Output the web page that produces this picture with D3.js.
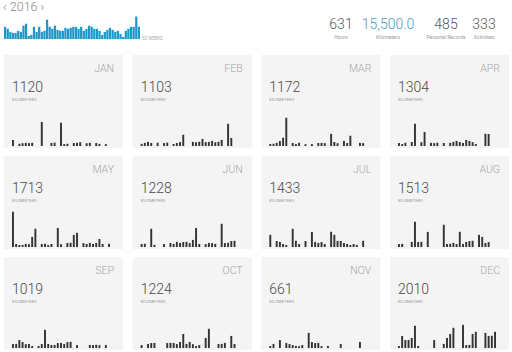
<!DOCTYPE html>
<html>
<head>
<meta charset="utf-8">
<script src="https://cdn.jsdelivr.net/npm/d3@7"></script>
<style>
  body { margin: 0; background: #fff; }
  svg { display: block; font-family: "Helvetica Neue", Roboto, "Liberation Sans", sans-serif; }
</style>
</head>
<body>
<svg width="512" height="352"></svg>
<script>
const year = "2016";
const months = ["JAN", "FEB", "MAR", "APR", "MAY", "JUN", "JUL", "AUG", "SEP", "OCT", "NOV", "DEC"];
const monthTotals = [1120, 1103, 1172, 1304, 1713, 1228, 1433, 1513, 1019, 1224, 661, 2010];

// km per day
const jan = [48,0,18,22,25,23,26,0,0,192,0,0,24,27,0,186,15,18,0,24,26,31,0,22,25,0,24,17,0,15,0];
const feb = [17,25,33,24,0,26,0,23,27,0,16,24,31,90,0,0,33,30,34,57,31,33,41,30,34,49,0,178,64];
const mar = [16,18,25,40,66,226,0,24,15,26,0,14,0,15,0,24,25,23,0,97,32,22,0,41,24,82,0,0,25,23,0];
const apr = [24,15,26,0,32,178,0,30,112,0,25,23,26,0,24,0,25,33,41,32,24,48,40,31,16,0,0,98,96,0];
const may = [282,24,16,17,25,23,81,146,0,24,26,15,24,0,153,23,0,32,34,97,113,0,31,24,33,25,32,64,24,0,26];
const jun = [24,26,0,146,17,0,0,24,0,32,25,41,33,40,42,31,57,152,24,0,23,33,31,25,0,186,32,34,48,50];
const jul = [97,0,48,41,24,16,0,146,50,24,0,48,0,121,41,33,40,24,0,122,97,49,48,32,25,16,24,17,0,50,0];
const aug = [24,25,0,0,41,202,40,42,0,121,0,0,0,0,178,24,26,33,24,122,25,41,48,50,0,97,81,32,40,0,0];
const sep = [32,33,64,48,31,33,16,0,17,32,146,33,24,25,40,41,32,48,50,0,24,0,0,0,25,24,26,23,0,25];
const oct = [24,0,33,40,41,0,0,0,40,42,41,32,48,113,33,49,31,16,24,0,81,154,0,0,32,33,41,0,97,32,0];
const nov = [16,33,0,64,0,41,32,24,17,15,24,0,121,48,40,41,16,0,17,0,0,0,32,0,0,0,0,0,48,0];
const dec = [16,97,64,65,81,178,17,0,0,0,0,64,0,0,33,81,113,162,0,0,186,24,25,113,130,0,0,121,97,98,130];
const daily = [jan, feb, mar, apr, may, jun, jul, aug, sep, oct, nov, dec];

// km per week for the blue strip at the top
const weekly = [372,310,217,186,186,248,217,403,465,93,124,372,217,372,217,248,589,372,310,403,279,248,248,341,310,341,
                372,372,310,372,248,310,403,372,310,310,248,124,217,279,341,279,217,248,155,62,248,310,372,372,682,372];

const statValues = ["631", "15,500.0", "485", "333"];
const statLabels = ["Hours", "Kilometers", "Personal Records", "Activities"];

const svg = d3.select("svg");

// en-tete : année
svg.append("text")
  .attr("x", 3).attr("y", 11)
  .attr("fill", "#8a8a8a").attr("font-size", 12.5).attr("font-weight", 300)
  .text("\u2039 " + year + " \u203A");

// sparkline hebdomadaire
const wx = d3.scaleBand().domain(d3.range(weekly.length)).range([4, 140]).paddingInner(0.15);
const wy = d3.scaleLinear().domain([0, 700]).range([39, 16]);
svg.append("g").selectAll("rect")
  .data(weekly)
  .join("rect")
  .attr("x", (d, i) => wx(i))
  .attr("y", d => wy(d))
  .attr("width", wx.bandwidth())
  .attr("height", d => wy(0) - wy(d))
  .attr("fill", "#1b98c8");
svg.append("text")
  .attr("x", 142).attr("y", 40)
  .attr("fill", "#aaa").attr("font-size", 4.5)
  .text("52 WEEKS");

// statistiques
const sx = [341, 388, 446, 484];
statValues.forEach(function(v, i) {
  svg.append("text")
    .attr("x", sx[i]).attr("y", 29)
    .attr("text-anchor", "middle")
    .attr("font-size", 14).attr("font-weight", 300)
    .attr("fill", i === 1 ? "#4a9cc4" : "#555")
    .text(v);
  svg.append("text")
    .attr("x", sx[i]).attr("y", 38.5)
    .attr("text-anchor", "middle")
    .attr("font-size", 5).attr("fill", "#999")
    .text(statLabels[i]);
});

// panneaux mensuels
const col = d3.scaleBand().domain(d3.range(4)).range([4, 509]).paddingInner(0.075);
const row = d3.scaleBand().domain(d3.range(3)).range([55, 350]).paddingInner(0.08);
const dayX = d3.scaleBand().domain(d3.range(31)).range([8, 106]).paddingInner(0.4);
const barH = d3.scaleLinear().domain([0, 280]).range([0, 35]);
const base = 91;

const panels = svg.append("g").selectAll("g")
  .data(months)
  .join("g")
  .attr("transform", (d, i) => "translate(" + col(i % 4) + "," + row(Math.floor(i / 4)) + ")");

panels.append("rect")
  .attr("width", col.bandwidth())
  .attr("height", row.bandwidth())
  .attr("fill", "#f4f4f4");

panels.append("text")
  .attr("x", col.bandwidth() - 9).attr("y", 17)
  .attr("text-anchor", "end")
  .attr("font-size", 10.5).attr("font-weight", 300)
  .attr("fill", "#a5a5a5")
  .text(d => d);

panels.append("text")
  .attr("x", 8).attr("y", 37)
  .attr("font-size", 14).attr("font-weight", 300)
  .attr("fill", "#4a4a4a")
  .text((d, i) => monthTotals[i]);

panels.append("text")
  .attr("x", 8).attr("y", 45.5)
  .attr("font-size", 4.2)
  .attr("fill", "#999")
  .text("KILOMETERS");

panels.each(function(m, i) {
  d3.select(this).selectAll(".bar")
    .data(daily[i])
    .join("rect")
    .attr("class", "bar")
    .attr("x", (d, j) => dayX(j))
    .attr("y", d => base - barH(d))
    .attr("width", dayX.bandwidth())
    .attr("height", d => barH(d))
    .attr("fill", "#333");
});
</script>
</body>
</html>
